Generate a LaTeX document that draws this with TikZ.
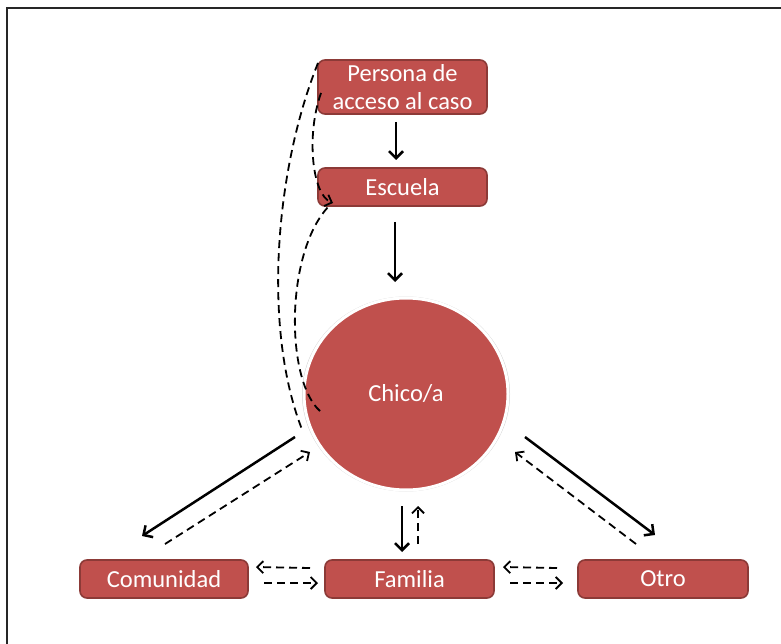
\documentclass[tikz,border=0pt]{standalone}
\usepackage{fontspec}
\setmainfont{Carlito}
\usetikzlibrary{arrows.meta,shapes.geometric,calc}
\definecolor{boxred}{HTML}{C0504D}
\definecolor{boxedge}{HTML}{8C3A37}
\begin{document}
\begin{tikzpicture}[x=1pt,y=-1pt,
  textstyle/.style={text=white,font=\fontsize{24.5}{28}\selectfont},
  rbox/.style={textstyle,draw=boxedge,fill=boxred,line width=1.6pt,rounded corners=7pt,
    minimum height=38pt,inner sep=0pt,align=center},
  bigcirc/.style={ellipse,textstyle,fill=boxred,draw=white,line width=3pt,
    minimum width=204pt,minimum height=192pt,inner sep=0pt},
  solidarrow/.style={line width=2.5pt,-{Straight Barb[length=7pt,width=14pt]}},
  dasharrow/.style={line width=1.8pt,dash pattern=on 8pt off 5pt,-{Straight Barb[length=6pt,width=12pt]}},
  dashline/.style={line width=1.8pt,dash pattern=on 8pt off 5pt},
]
\useasboundingbox (0,0) rectangle (781,644);
\fill[white] (0,0) rectangle (781,644);

% open frame (left and top edges)
\draw[line width=1.6pt,black!85] (7,644) -- (7,8) -- (781,8);

% nodes
\node[rbox,minimum width=169pt,minimum height=54pt] (per) at (402.5,87) {Persona de\\acceso al caso};
\node[rbox,minimum width=169pt] (esc) at (402.5,187) {Escuela};
\fill[black!18] (406,394) ellipse [x radius=104pt,y radius=97.5pt];
\node[bigcirc] (chico) at (406,394) {Chico/a};
\node[rbox,minimum width=168pt] (com) at (164,579) {Comunidad};
\node[rbox,minimum width=169pt] (fam) at (409.5,579) {Familia};
\node[rbox,minimum width=170pt] (otro) at (663,579) {Otro};

% connector end points
\coordinate (perA) at (396,122);  \coordinate (escA) at (396,160);
\coordinate (escB) at (395,222);  \coordinate (chA) at (395,282);
\coordinate (chL) at (295,437);   \coordinate (comT) at (142,536);
\coordinate (comR) at (165,544);  \coordinate (chLr) at (310,452);
\coordinate (chR) at (525,437);   \coordinate (otT) at (655,535);
\coordinate (otL) at (636,544);   \coordinate (chRr) at (515,452);
\coordinate (chB) at (402,506);   \coordinate (famT) at (402,552);
\coordinate (famU) at (418,544);  \coordinate (chBr) at (418,506);
\coordinate (cf1) at (310,568);   \coordinate (cf2) at (256,567);
\coordinate (cf3) at (264,583);   \coordinate (cf4) at (318,583);
\coordinate (fo1) at (557,568);   \coordinate (fo2) at (503,567);
\coordinate (fo3) at (510,583);   \coordinate (fo4) at (563,583);
\coordinate (perTL) at (318,63);  \coordinate (chW) at (303,432);
\coordinate (perL) at (321,93);   \coordinate (escSW) at (333,203);
\coordinate (chCurl) at (320,411); \coordinate (escSW2) at (330,205);

% main flow
\draw[solidarrow] (perA) -- (escA);
\draw[solidarrow] (escB) -- (chA);
\draw[solidarrow] (chL) -- (comT);
\draw[dasharrow] (comR) -- (chLr);
\draw[solidarrow] (chR) -- (otT);
\draw[dasharrow] (otL) -- (chRr);
\draw[solidarrow] (chB) -- (famT);
\draw[dasharrow] (famU) -- (chBr);

% exchanges between the lower boxes
\draw[dasharrow] (cf1) -- (cf2);
\draw[dasharrow] (cf3) -- (cf4);
\draw[dasharrow] (fo1) -- (fo2);
\draw[dasharrow] (fo3) -- (fo4);

% feedback curves on the left
\draw[dashline] (perTL) .. controls (275,170) and (262,330) .. (chW);
\draw[dasharrow] (perL) .. controls (306,135) and (312,195) .. (escSW);
\draw[dashline] (chCurl) .. controls (285,380) and (285,250) .. (escSW2);
\end{tikzpicture}
\end{document}
